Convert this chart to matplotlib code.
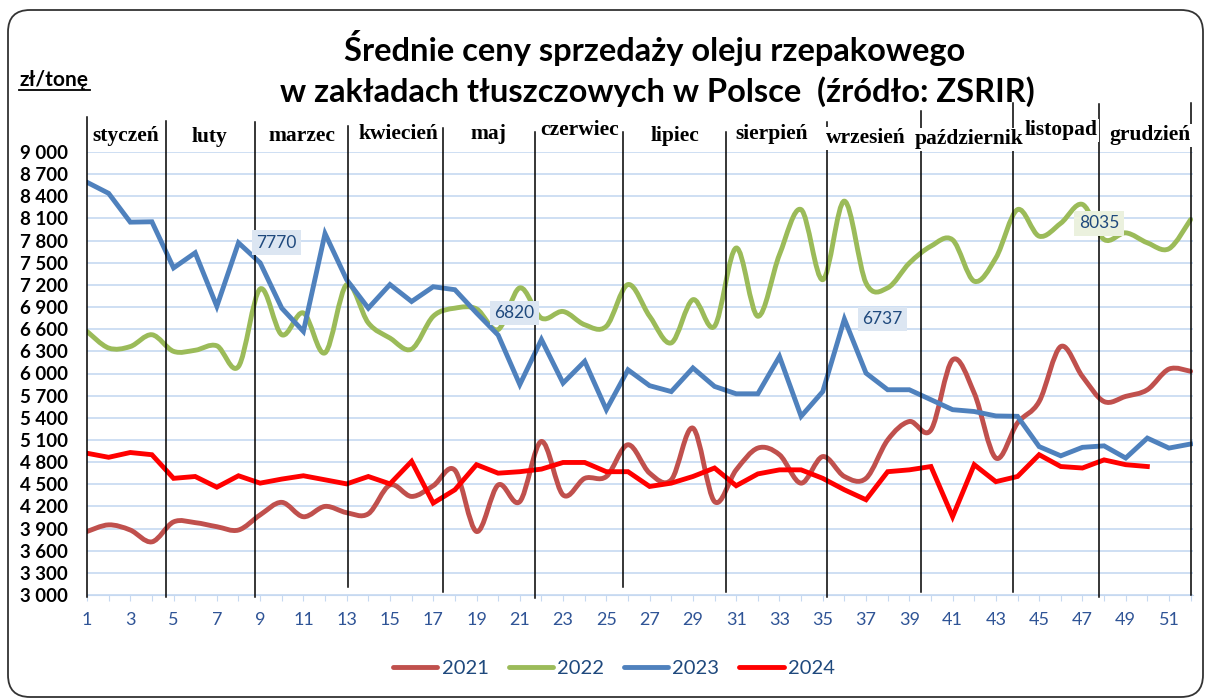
import numpy as np
import matplotlib
matplotlib.use("Agg")
import matplotlib.pyplot as plt
from matplotlib.path import Path
from matplotlib.patches import PathPatch, FancyBboxPatch
from matplotlib.lines import Line2D
from matplotlib.transforms import IdentityTransform

# weekly prices, zł/t
weeks = np.arange(1, 53)
y2021 = [3860, 3950, 3880, 3720, 3990, 3980, 3925, 3880, 4085, 4255,
         4060, 4200, 4115, 4100, 4490, 4335, 4480, 4690, 3860, 4490,
         4265, 5080, 4355, 4580, 4605, 5035, 4650, 4560, 5260, 4265,
         4695, 4990, 4900, 4515, 4875, 4605, 4580, 5100, 5350, 5235,
         6185, 5735, 4855, 5330, 5620, 6365, 5960, 5620, 5690, 5780,
         6060, 6030]
y2022 = [6570, 6345, 6365, 6525, 6300, 6315, 6375, 6095, 7145, 6525,
         6820, 6280, 7205, 6685, 6480, 6330, 6775, 6885, 6875, 6595,
         7160, 6750, 6840, 6660, 6640, 7205, 6775, 6415, 7000, 6640,
         7700, 6775, 7610, 8220, 7270, 8335, 7225, 7160, 7495, 7725,
         7810, 7250, 7565, 8220, 7860, 8035, 8290, 7815, 7905, 7770,
         7690, 8085]
y2023 = [8590, 8440, 8050, 8055, 7430, 7635, 6910, 7770, 7500, 6885,
         6570, 7895, 7270, 6885, 7205, 6975, 7175, 7135, 6820, 6520,
         5850, 6460, 5870, 6165, 5510, 6050, 5835, 5755, 6075, 5825,
         5725, 5725, 6230, 5420, 5755, 6737, 6005, 5780, 5780, 5645,
         5510, 5485, 5425, 5420, 5010, 4885, 5000, 5020, 4855, 5125,
         4990, 5045]
y2024 = [4920, 4865, 4930, 4900, 4580, 4605, 4460, 4615, 4515, 4570,
         4615, 4560, 4505, 4605, 4505, 4810, 4245, 4425, 4765, 4650,
         4670, 4705, 4795, 4795, 4670, 4670, 4470, 4515, 4605, 4720,
         4480, 4640, 4695, 4695, 4580, 4425, 4290, 4670, 4695, 4740,
         4060, 4765, 4535, 4605, 4900, 4740, 4720, 4830, 4765, 4740]

months = ["styczeń", "luty", "marzec", "kwiecień", "maj", "czerwiec",
          "lipiec", "sierpień", "wrzesień", "październik", "listopad", "grudzień"]
# hand drawn month separators (week position, top, bottom)
sep_x = [1.0, 4.65, 8.76, 13.06, 17.45, 21.7, 25.77, 30.53, 35.2, 39.54, 43.78, 47.76, 52.0]
sep_top = [9470, 9420, 9410, 9350, 9330, 9270, 9270, 9265, 9400, 9550, 9670, 9645, 9670]
sep_bot = [2970, 2970, 2975, 3110, 3040, 2960, 3110, 3040, 2975, 3040, 3040, 2975, 3000]
lab_x = [2.8, 6.68, 10.94, 15.37, 19.53, 23.78, 28.17, 32.65, 37.0, 41.75, 46.02, 50.12]
lab_y = [9211, 9197, 9211, 9238, 9238, 9292, 9211, 9238, 9183, 9170, 9292, 9224]

# callouts: (series, week)
callouts = [("2023", 8), ("2023", 19), ("2023", 36), ("2022", 46)]

colors = {"2021": "#c0504d", "2022": "#9bbb59", "2023": "#4f81bd", "2024": "#ff0000"}
series = {"2021": y2021, "2022": y2022, "2023": y2023, "2024": y2024}
box_col = {"2022": "#ebf1de", "2023": "#dce6f2"}
LW = 3.5


def smooth_patch(x, y, color):
    # excel-like smoothed line as cubic bezier
    n = len(x)
    verts = [(x[0], y[0])]
    codes = [Path.MOVETO]
    for i in range(n - 1):
        a = max(i - 1, 0)
        b = min(i + 2, n - 1)
        c1 = (x[i] + (x[i + 1] - x[a]) / 6, y[i] + (y[i + 1] - y[a]) / 6)
        c2 = (x[i + 1] - (x[b] - x[i]) / 6, y[i + 1] - (y[b] - y[i]) / 6)
        verts += [c1, c2, (x[i + 1], y[i + 1])]
        codes += [Path.CURVE4] * 3
    return PathPatch(Path(verts, codes), fill=False, ec=color, lw=LW,
                     capstyle="round", joinstyle="round")


fig = plt.figure(figsize=(12.06, 6.99), dpi=100)
ax = fig.add_axes([87 / 1206, 1 - 595 / 699, (1193 - 87) / 1206, (595 - 152) / 699])

ax.add_patch(smooth_patch(weeks, y2021, colors["2021"]))
ax.add_patch(smooth_patch(weeks, y2022, colors["2022"]))
ax.plot(weeks, y2023, color=colors["2023"], lw=LW, solid_joinstyle="miter")
ax.plot(weeks[:len(y2024)], y2024, color=colors["2024"], lw=LW, solid_joinstyle="miter")

ax.set_xlim(1, 52.11)
ax.set_ylim(3000, 9000)
yt = np.arange(3000, 9001, 300)
ax.set_yticks(yt)
ax.set_yticklabels([f"{v:,}".replace(",", " ") for v in yt],
                   fontfamily="Lato", fontweight="bold", fontsize=13.5)
ax.set_xticks(weeks)
ax.set_xticklabels([str(w) if w % 2 else "" for w in weeks],
                   fontfamily="Lato", fontsize=13, color="#2f5496")
ax.tick_params(axis="y", length=0, pad=14)
ax.tick_params(axis="x", length=4, color="#c6d9f1", pad=8)
ax.grid(axis="y", color="#c6d9f1", lw=1.2)
ax.set_axisbelow(True)
for s in ["left", "right", "top"]:
    ax.spines[s].set_visible(False)
ax.spines["bottom"].set_color("#c6d9f1")

# month separators and names (earlier names sit on top of later ones)
for x, t, b in zip(sep_x, sep_top, sep_bot):
    ax.plot([x, x], [b, t], color="black", lw=1.1, clip_on=False, zorder=5)
for i, (name, x, y) in enumerate(zip(months, lab_x, lab_y)):
    ax.text(x, y, name, ha="center", va="center", fontfamily="Liberation Serif",
            fontweight="bold", fontsize=15.5, zorder=6 + (12 - i) * 0.01,
            bbox=dict(boxstyle="square,pad=0.05", fc="white", ec="none"))

# value callouts
for key, w in callouts:
    v = series[key][w - 1]
    ax.annotate(str(v), (w, v), xytext=(13, 0), textcoords="offset points",
                ha="left", va="center", fontfamily="Lato", fontsize=12.5,
                color="#1f497d", zorder=7,
                bbox=dict(boxstyle="square,pad=0.25", fc=box_col[key], ec="none"))

# titles
fig.text(655 / 1206, 1 - 48 / 699, "Średnie ceny sprzedaży oleju rzepakowego",
         ha="center", va="center", fontfamily="Lato", fontweight="bold", fontsize=23.5)
fig.text(657 / 1206, 1 - 92 / 699, "w zakładach tłuszczowych w Polsce  (źródło: ZSRIR)",
         ha="center", va="center", fontfamily="Lato", fontweight="bold", fontsize=23.5)
fig.text(19 / 1206, 1 - 80 / 699, "zł/tonę", ha="left", va="center",
         fontfamily="Lato", fontweight="bold", fontsize=15)
fig.add_artist(Line2D([19 / 1206, 90 / 1206], [1 - 90 / 699, 1 - 90 / 699],
                      color="black", lw=1.3))

# legend
handles = [Line2D([], [], color=colors[k], lw=LW, solid_capstyle="round") for k in series]
leg = fig.legend(handles, list(series), loc="center", bbox_to_anchor=(614 / 1206, 1 - 668 / 699),
                 ncol=4, frameon=False, handlelength=2.2, handletextpad=0.2,
                 columnspacing=1.0, prop=dict(family="Lato", size=14.5))
for t in leg.get_texts():
    t.set_color("#1f497d")

# rounded outer frame
frame = FancyBboxPatch((8, 2), 1195, 687, boxstyle="round,pad=0,rounding_size=22",
                       transform=IdentityTransform(), fill=False, ec="#333333", lw=1.3)
fig.add_artist(frame)

fig.savefig("out.png", dpi=100)
